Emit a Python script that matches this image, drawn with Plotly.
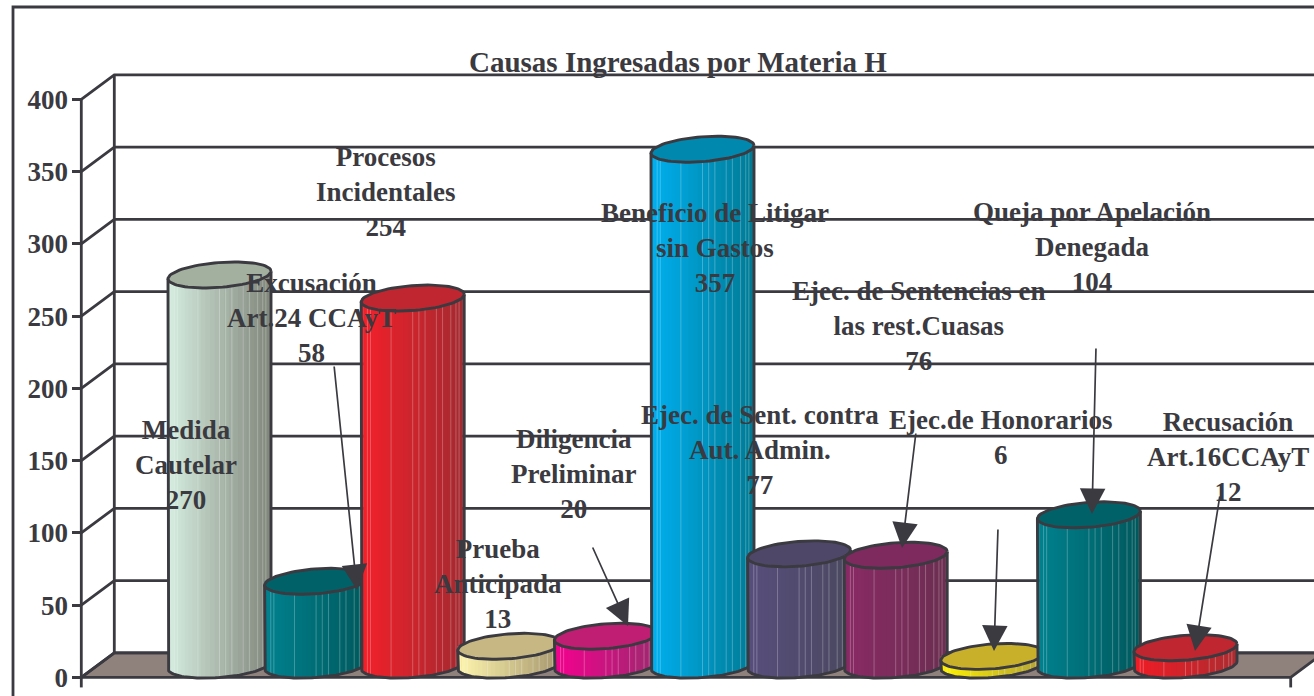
import numpy as np
import plotly.graph_objects as go

# ---------- data ----------
categories = ["Medida<br>Cautelar", "Excusación<br>Art.24 CCAyT", "Procesos<br>Incidentales",
              "Prueba<br>Anticipada", "Diligencia<br>Preliminar", "Beneficio de Litigar<br>sin Gastos",
              "Ejec. de Sent. contra<br>Aut. Admin.", "Ejec. de Sentencias en<br>las rest.Cuasas",
              "Ejec.de Honorarios", "Queja por Apelación<br>Denegada", "Recusación<br>Art.16CCAyT"]
values = [270, 58, 254, 13, 20, 357, 77, 76, 6, 104, 12]
tick_values = [0, 50, 100, 150, 200, 250, 300, 350, 400]
title_text = "Causas Ingresadas por Materia H"

# ---------- styles ----------
left_colors = ["#d6eee0", "#00828f", "#f4202a", "#fff6ae", "#f5008f", "#00b0f0", "#584e7c", "#8a2a66", "#fff200", "#00828f", "#f01c26"]
right_colors = ["#80857a", "#00585c", "#a32a30", "#a5966e", "#9c2a6e", "#007a94", "#4a4860", "#6c2e50", "#b0a03a", "#00585c", "#ab2c30"]
top_colors = ["#a4b09f", "#006268", "#c02630", "#c6b783", "#c01e72", "#0088ae", "#4f4768", "#7e2a5e", "#c8b02a", "#006268", "#c02630"]
INK = "#3a3a40"
FLOOR = "#8f817c"
FONT = "Liberation Serif"
pin_fracs = [.06, .09, .29, .5, .56, .62, .73, .79, .87, .92, .95]

# ---------- geometry (pixels of the 1314x696 page) ----------
W, H_PAGE = 1314, 696
M_LEFT = 72
Y0_PX, PX_PER_V = 677.3, 1.445
X0_PX, PX_PER_CAT = 219.5, 96.6
AX_PX, END_PX = 81.3, 1290.7
DEPTH_X, DEPTH_Y = 33.0, 24.4
BASE_OFF = 12.2
HALF, DX, DY = 51.5, 15.0, 13.0
RX = np.sqrt(HALF**2 - DX**2)
PHI = np.arctan2(DX, RX)


def xd(px):
    return (np.asarray(px, float) - X0_PX) / PX_PER_CAT


def yd(px):
    return (Y0_PX - np.asarray(px, float)) / PX_PER_V


def mix(c1, c2, f):
    a = [int(c1[i:i + 2], 16) for i in (1, 3, 5)]
    b = [int(c2[i:i + 2], 16) for i in (1, 3, 5)]
    return "rgb(%d,%d,%d)" % tuple(round(p + (q - p) * f) for p, q in zip(a, b))


fig = go.Figure()


def add(x, y, **kw):
    fig.add_trace(go.Scatter(x=x, y=y, mode="lines", hoverinfo="skip", showlegend=False, **kw))


# floor
fx = [AX_PX, END_PX, END_PX + DEPTH_X, AX_PX + DEPTH_X, AX_PX]
fy = [Y0_PX, Y0_PX, Y0_PX - DEPTH_Y, Y0_PX - DEPTH_Y, Y0_PX]
add(xd(fx), yd(fy), fill="toself", fillcolor=FLOOR, line=dict(color=INK, width=2.8))

# walls and gridlines, placed from the tick values
gx, gy = [], []
hw = float(xd(AX_PX + DEPTH_X))
left = float(xd(AX_PX))
right = float(xd(END_PX + DEPTH_X))
dv = DEPTH_Y / PX_PER_V
for v in tick_values:
    gx += [left, hw, right, None]
    gy += [v, v + dv, v + dv, None]
gx += [left, left, None, hw, hw, None, left, left, None, float(xd(END_PX)), float(xd(END_PX))]
gy += [0, 400, None, dv, 400 + dv, None, 0, -7, None, 0, -7]
add(gx, gy, line=dict(color=INK, width=2.8))

# cylinders
N = 34
for i, v in enumerate(values):
    cx = X0_PX + PX_PER_CAT * i
    base = Y0_PX - BASE_OFF
    top = base - v * PX_PER_V
    taus = np.linspace(-np.pi, 0, N + 1)
    for k in range(N):
        t0, t1 = taus[k], min(taus[k + 1] + 0.03, 0)
        tt = np.linspace(t0, t1, 4)
        xs = cx + HALF * np.cos(tt)
        ys = base - DY * np.sin(tt + PHI)
        px_x = np.concatenate([xs, xs[::-1]])
        px_y = np.concatenate([ys, np.full(4, top)])
        f = (np.cos(t0) + np.cos(taus[k + 1])) / 2 * 0.5 + 0.5
        c = mix(left_colors[i], right_colors[i], f)
        add(xd(px_x), yd(px_y), fill="toself", fillcolor=c, line=dict(width=0))
    # thin facet lines
    lx, ly = [], []
    for f in pin_fracs:
        px = cx - HALF + 2 * HALF * f
        tau = -np.arccos(np.clip((px - cx) / HALF, -1, 1))
        lx += [float(xd(px)), float(xd(px)), None]
        ly += [float(yd(base - DY * np.sin(tau + PHI))), float(yd(top)), None]
    add(lx, ly, line=dict(color="rgba(255,255,255,0.25)", width=1))
    # outline of the body
    tt = np.linspace(-np.pi, 0, 60)
    xs = cx + HALF * np.cos(tt)
    ys = base - DY * np.sin(tt + PHI)
    tl = top - DY * np.sin(PHI - np.pi)
    tr = top - DY * np.sin(PHI)
    add(xd(np.concatenate([[cx - HALF], xs, [cx + HALF]])),
        yd(np.concatenate([[tl], ys, [tr]])),
        line=dict(color=INK, width=2.9))
    # top cap
    tt = np.linspace(0, 2 * np.pi, 80)
    add(xd(cx + HALF * np.cos(tt)), yd(top - DY * np.sin(tt + PHI)),
        fill="toself", fillcolor=top_colors[i], line=dict(color=INK, width=2.9))

# text labels: centre x and y of the middle of the block, in page pixels
label_pos = [(186, 465), (311, 318), (386, 192), (498, 584), (573, 474), (715, 248),
             (760, 450), (918, 326), (1000, 437), (1092, 247), (1228, 457)]
for cat, v, (lx, ly) in zip(categories, values, label_pos):
    fig.add_annotation(x=float(xd(lx)), y=float(yd(ly)), xref="x", yref="y", showarrow=False,
                       text=f"{cat}<br>{v}", align="center", xanchor="center", yanchor="middle",
                       font=dict(family=FONT, size=27, color=INK, weight=700))

# leader arrows (start -> end, page pixels)
arrows = [((334, 365), (357, 590)), ((592, 546), (628, 626)), ((916, 432), (902, 548)),
          ((998, 528), (994, 651)), ((1096, 347), (1092, 514)), ((1220, 495), (1195, 651))]
for (ax_, ay_), (ex, ey) in arrows:
    fig.add_annotation(x=float(xd(ex)), y=float(yd(ey)), ax=float(xd(ax_)), ay=float(yd(ay_)),
                       xref="x", yref="y", axref="x", ayref="y", text="", showarrow=True,
                       arrowhead=2, arrowsize=3.0, arrowwidth=1.7, arrowcolor=INK, standoff=0)

fig.add_annotation(x=float(xd(678)), y=float(yd(62)), xref="x", yref="y", showarrow=False,
                   text=title_text, xanchor="center", yanchor="middle",
                   font=dict(family=FONT, size=29, color=INK, weight=700))

# outer frame, cut by the page at the right and the bottom
frame = dict(type="path", xref="paper", yref="paper", line=dict(color=INK, width=2.8),
             path="M %.4f 0 L %.4f %.5f L 1 %.5f" % ((13 - M_LEFT) / (W - M_LEFT), (13 - M_LEFT) / (W - M_LEFT),
                                                    1 - 7 / H_PAGE, 1 - 7 / H_PAGE))
fig.add_shape(frame)

fig.update_layout(
    width=W, height=H_PAGE, margin=dict(l=M_LEFT, r=0, t=0, b=0, autoexpand=False),
    paper_bgcolor="white", plot_bgcolor="white", showlegend=False,
    xaxis=dict(range=[float(xd(M_LEFT)), float(xd(W))], visible=False, fixedrange=True),
    yaxis=dict(range=[float(yd(H_PAGE)), float(yd(0))], tickmode="array", tickvals=tick_values,
               ticks="inside", ticklen=10, tickwidth=2.8, tickcolor=INK, showgrid=False, zeroline=False,
               showline=False, fixedrange=True, ticklabelstandoff=3,
               tickfont=dict(family=FONT, size=27, color=INK, weight=700)),
)
fig.write_html("out.html", config={"displayModeBar": False},
               post_script="document.body.style.margin='0';document.body.style.overflow='hidden';")
